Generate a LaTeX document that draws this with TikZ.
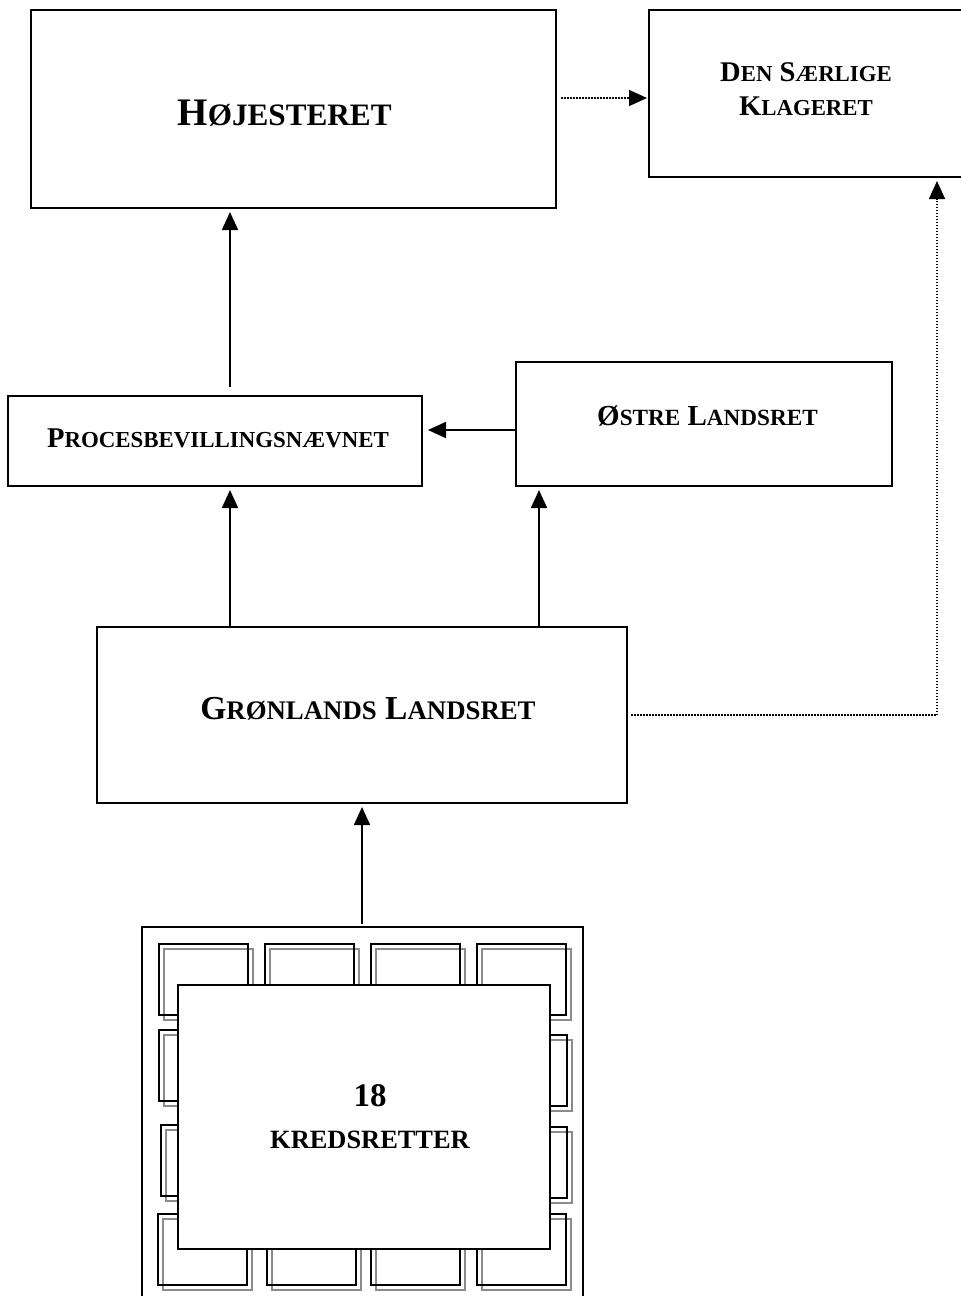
\documentclass[tikz,border=0pt]{standalone}
\usepackage{fontspec}
\setmainfont{Liberation Serif}
\usetikzlibrary{arrows.meta, calc}

% small capitals, as the picture fakes them
\newcommand{\lille}[1]{\scalebox{0.8}{#1}}

\begin{document}
\begin{tikzpicture} [x=1pt, y=-1pt,
boks/.style={draw, line width=2pt, inner sep=0pt},
tekst/.style={inner sep=0pt, align=center, font=\fontsize{#1}{34}\selectfont\bfseries},
pil/.style={line width=1.7pt, -{Triangle[width=16pt, length=18pt]}},
prik/.style={line width=1.5pt, dash pattern=on 1.5pt off 1.5pt, -{Triangle[width=16pt, length=18pt]}}]

\path[use as bounding box, clip] (0,0) rectangle (961,1296);

\node[boks, minimum width=525, minimum height=198] (hoj) at (293.5,109) {};
\node[tekst=39] (hojtxt) at (284.5,113) {H\lille{ØJESTERET}};

\node[boks, minimum width=313, minimum height=167] (dsk) at (805.5,93.5) {};
\node[tekst=28.5] (dsktxt) at (806,89) {D\lille{EN} S\lille{ÆRLIGE}\\K\lille{LAGERET}};

\node[boks, minimum width=414, minimum height=90] (proc) at (215,441) {};
\node[tekst=28.6] (proctxt) at (218,438) {P\lille{ROCESBEVILLINGSNÆVNET}};

\node[boks, minimum width=376, minimum height=124] (ost) at (704,424) {};
\node[tekst=29] (osttxt) at (707.5,416) {Ø\lille{STRE} L\lille{ANDSRET}};

\node[boks, minimum width=530, minimum height=176] (gron) at (362,715) {};
\node[tekst=33.5] (grontxt) at (368,709) {G\lille{RØNLANDS} L\lille{ANDSRET}};

% kredsretter: frame, the small courts, and the box on top
\node[boks, minimum width=441, minimum height=373] (kred) at (362,1113.5) {};
\foreach \bx/\by in {159/944, 265/944, 371/944, 477/944, 159/1030, 478/1035,
                     161/1125, 478/1127, 158/1214, 267/1214, 371/1214, 477/1214} {
  \draw[black!45, line width=2pt] ({\bx+5},{\by+5}) rectangle ++(89,71);
  \draw[line width=2pt] (\bx,\by) rectangle ++(89,71);
}
\node[boks, fill=white, minimum width=372, minimum height=264] (kredind) at (364,1117) {};
\node[tekst=33] (kredtxt) at (370,1117) {18\\[8pt]\lille{KREDSRETTER}};

% connectors
\coordinate (p1) at ([xshift=15pt]proc.north);
\coordinate (o1) at ([yshift=-6pt]ost.west);
\coordinate (o2) at ([xshift=-165pt]ost.south);
\coordinate (h1) at ([yshift=11pt]hoj.east);
\coordinate (d1) at ([xshift=131.5pt]dsk.south);

\draw[pil, shorten <=8pt, shorten >=3pt] (p1) -- (p1 |- hoj.south);
\draw[prik, shorten <=4pt, shorten >=1pt] (h1) -- (h1 -| dsk.west);
\draw[pil, shorten >=5pt] (o1) -- (o1 -| proc.east);
\draw[pil, shorten >=3pt] (p1 |- gron.north) -- (p1 |- proc.south);
\draw[pil, shorten >=3pt] (o2 |- gron.north) -- (o2);
\draw[prik, shorten <=3pt, shorten >=3pt] (gron.east) -| (d1);
\draw[pil, shorten <=2pt, shorten >=3pt] (kred.north) -- (kred.north |- gron.south);

\end{tikzpicture}
\end{document}
